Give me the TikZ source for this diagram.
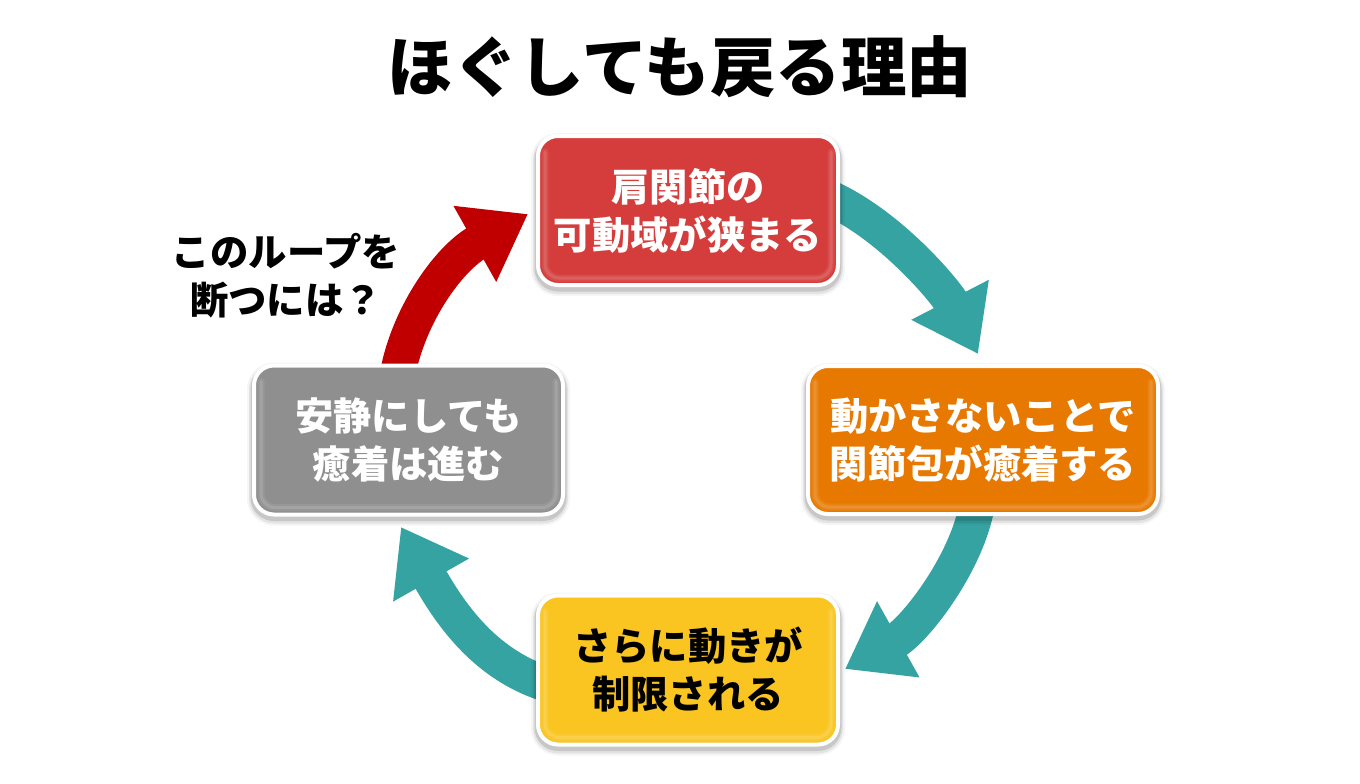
\documentclass[tikz,border=0pt]{standalone}
\usepackage{fontspec}
\setmainfont{Noto Sans CJK JP}
\usetikzlibrary{arrows.meta}
\pgfdeclarelayer{bg}
\pgfsetlayers{bg,main}
\definecolor{cred}{HTML}{D43D3B}
\definecolor{corange}{HTML}{E87900}
\definecolor{cyellow}{HTML}{FAC520}
\definecolor{cgray}{HTML}{8F8F8F}
\definecolor{cteal}{HTML}{36A3A3}
\definecolor{cdred}{HTML}{C00000}
\tikzset{
  softshadow/.style={
    preaction={draw=black,draw opacity=.04,line width=14pt,transform canvas={yshift=-4pt}},
    preaction={draw=black,draw opacity=.07,line width=10pt,transform canvas={yshift=-4pt}},
    preaction={draw=black,draw opacity=.12,line width=7pt,transform canvas={yshift=-3pt}},
  },
  card/.style={
    rectangle,rounded corners=20pt,draw=white,line width=4pt,inner sep=0pt,outer sep=0pt,
    align=center,font=\fontsize{38.3}{48}\selectfont\bfseries,softshadow,
    path picture={
      \draw[white,opacity=.08,line width=7pt,rounded corners=14pt,line cap=round]
        ([shift={(7pt,-16pt)}]path picture bounding box.north west)
        -- ([shift={(7pt,7pt)}]path picture bounding box.south west)
        -- ([shift={(-7pt,7pt)}]path picture bounding box.south east)
        -- ([shift={(-7pt,-16pt)}]path picture bounding box.north east);
      \draw[white,opacity=.12,line width=3pt,rounded corners=14pt,line cap=round]
        ([shift={(7pt,-16pt)}]path picture bounding box.north west)
        -- ([shift={(7pt,7pt)}]path picture bounding box.south west)
        -- ([shift={(-7pt,7pt)}]path picture bounding box.south east)
        -- ([shift={(-7pt,-16pt)}]path picture bounding box.north east);
      \draw[black,opacity=.2,line width=3.5pt,rounded corners=20pt]
        (path picture bounding box.south west) rectangle (path picture bounding box.north east);
    }},
  loop/.style={line width=35.5pt,-{Triangle[length=61pt,width=83pt]}},
}
\begin{document}
\begin{tikzpicture}[x=1pt,y=-1pt]
\useasboundingbox (0,0) rectangle (1360,784);
\begin{pgfonlayer}{bg}
\fill[white] (0,0) rectangle (1360,784);
\end{pgfonlayer}
\node (title) at (680,67) {\fontsize{65.5}{70}\selectfont\bfseries ほぐしても戻る理由};
\node[font=\fontsize{38.4}{48}\selectfont\bfseries,align=center,inner sep=0pt] (note) at (286,275.5) {このループを\\断つには？};
\node[card,fill=cred,text=white,minimum width=300pt,minimum height=149pt] (a) at (688,210.5) {肩関節の\\可動域が狭まる};
\node[card,fill=corange,text=white,minimum width=350pt,minimum height=148pt] (b) at (983,440) {動かさないことで\\関節包が癒着する};
\node[card,fill=cyellow,text=black,minimum width=300pt,minimum height=149pt] (c) at (688,670) {さらに動きが\\制限される};
\node[card,fill=cgray,text=white,minimum width=309pt,minimum height=149pt] (d) at (408.5,440) {安静にしても\\癒着は進む};
\coordinate (t1) at (978,354);
\coordinate (t2) at (845,669);
\coordinate (t3) at (401,527);
\coordinate (t4) at (528,214);
\begin{pgfonlayer}{bg}
\draw[loop,cteal] ([shift={(-14,-15)}]a.east) .. controls (888,222) and (946,292) .. (t1);
\draw[loop,cteal] ([shift={(-5,-15)}]b.south) .. controls (970,560) and (915,630) .. (t2);
\draw[loop,cteal] ([shift={(15,16)}]c.west) .. controls (488,668) and (452,617) .. (t3);
\draw[loop,cdred] ([shift={(-12,15)}]d.north) .. controls (406,318) and (448,259) .. (t4);
\end{pgfonlayer}
\end{tikzpicture}
\end{document}
